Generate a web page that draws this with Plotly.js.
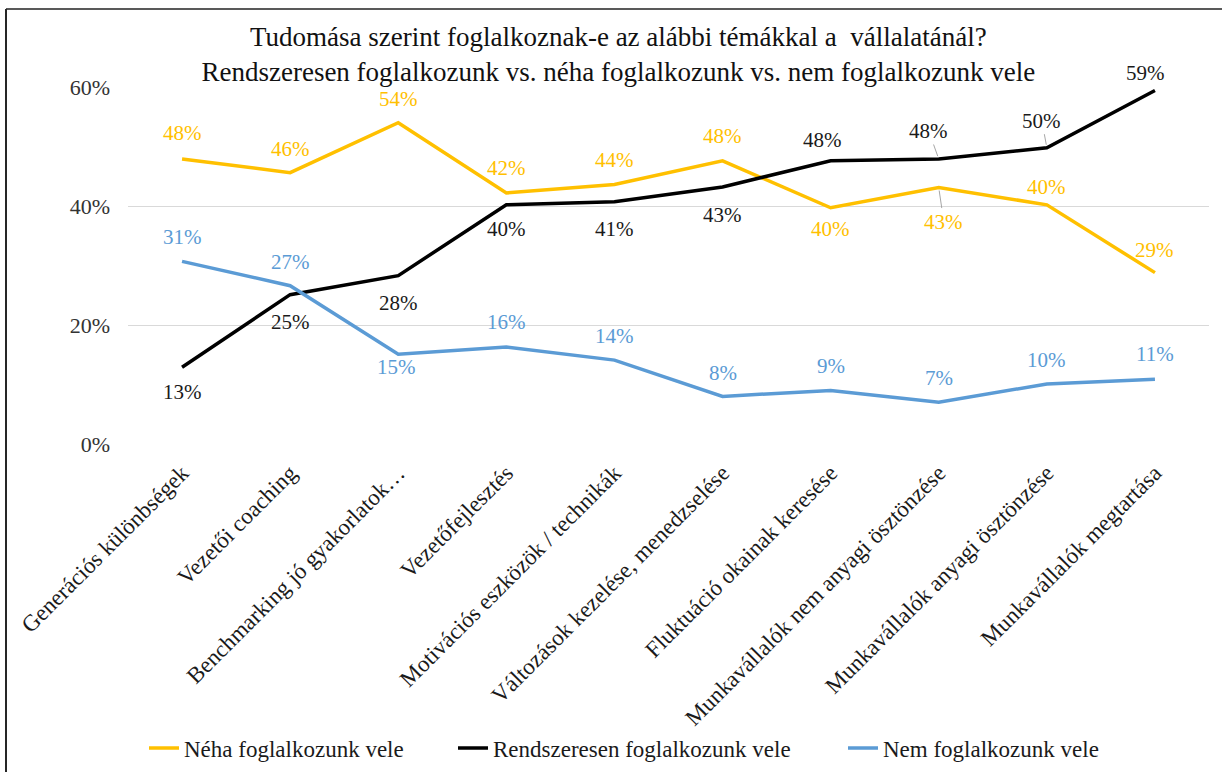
<!DOCTYPE html>
<html>
<head>
<meta charset="utf-8">
<script src="https://cdn.plot.ly/plotly-3.0.1.min.js"></script>
<style>html,body{margin:0;padding:0;background:#fff;}#chart{width:1222px;height:772px;}</style>
</head>
<body>
<div id="chart"></div>
<script>
const categories = [
  "Generációs különbségek",
  "Vezetői coaching",
  "Benchmarking jó gyakorlatok…",
  "Vezetőfejlesztés",
  "Motivációs eszközök / technikák",
  "Változások kezelése, menedzselése",
  "Fluktuáció okainak keresése",
  "Munkavállalók nem anyagi ösztönzése",
  "Munkavállalók anyagi ösztönzése",
  "Munkavállalók megtartása"
];
const nehaValues = [47.9, 45.6, 54.0, 42.2, 43.6, 47.6, 39.7, 43.1, 40.2, 28.8];
const rendszeresenValues = [12.9, 25.1, 28.3, 40.2, 40.7, 43.2, 47.6, 47.9, 49.8, 59.4];
const nemValues = [30.7, 26.6, 15.1, 16.3, 14.1, 8.0, 9.0, 7.0, 10.1, 10.9];
const seriesNames = ["Néha foglalkozunk vele", "Rendszeresen foglalkozunk vele", "Nem foglalkozunk vele"];
const yTickValues = [0, 20, 40, 60];
const yTickLabels = ["0%", "20%", "40%", "60%"];

// label placement (style): pixel offsets of data labels relative to their points
const nehaLabelDy = [-26, -24, -24, -25, -25, -25, 21, 34, -18, -23];
const nehaLabelDx = [0, 0, 0, 0, 0, 0, 0, 5, 0, 0];
const nehaLeader = [0, 0, 0, 0, 0, 0, 0, 1, 0, 0];
const rendLabelDy = [25, 27, 27, 24, 27, 28, -21, -28, -27, -18];
const rendLabelDx = [0, 0, 0, 0, 0, 0, -8, -10, -5, -9];
const rendLeader = [0, 0, 0, 0, 0, 0, 0, 1, 1, 0];
const nemLabelDy = [-24, -24, 13, -25, -24, -23, -24, -24, -24, -25];
const nemLabelDx = [0, 0, -2, 0, 0, 0, 0, 0, 0, 0];
const nemLeader = [0, 0, 0, 0, 0, 0, 0, 0, 0, 0];

const colors = ["#FFC000", "#000000", "#5B9BD5"];
const labelColors = ["#FFC000", "#1a1a1a", "#5B9BD5"];
const FONT = "Liberation Serif, Times New Roman, serif";

const seriesValues = [nehaValues, rendszeresenValues, nemValues];
const dys = [nehaLabelDy, rendLabelDy, nemLabelDy];
const dxs = [nehaLabelDx, rendLabelDx, nemLabelDx];
const leaders = [nehaLeader, rendLeader, nemLeader];
const legendIds = ["legend", "legend2", "legend3"];

const traces = seriesValues.map((vals, i) => ({
  type: "scatter",
  mode: "lines",
  x: categories,
  y: vals,
  name: seriesNames[i],
  legend: legendIds[i],
  line: { color: colors[i], width: 3.5 },
  cliponaxis: false,
  hoverinfo: "skip"
}));

const annotations = [];
seriesValues.forEach((vals, i) => {
  vals.forEach((v, j) => {
    annotations.push({
      x: categories[j],
      y: v,
      xref: "x",
      yref: "y",
      text: Math.round(v) + "%",
      showarrow: true,
      arrowhead: 0,
      arrowwidth: 1,
      arrowcolor: leaders[i][j] ? "#A6A6A6" : "rgba(0,0,0,0)",
      standoff: 3,
      ax: dxs[i][j],
      ay: dys[i][j],
      font: { family: FONT, size: 21, color: labelColors[i] }
    });
  });
});

const L = 128, T = 87, W = 1081, H = 357;
const px = p => (p - L) / W;
const py = p => (T + H - p) / H;
const shapes = [
  { type: "line", xref: "paper", yref: "paper", x0: px(6), x1: px(1230), y0: py(9), y1: py(9), line: { color: "#595959", width: 2 } },
  { type: "line", xref: "paper", yref: "paper", x0: px(6), x1: px(6), y0: py(9), y1: py(780), line: { color: "#262626", width: 2 } }
];

const legendBase = {
  orientation: "h",
  xref: "container",
  yref: "container",
  xanchor: "left",
  yanchor: "middle",
  y: (772 - 748) / 772,
  font: { family: FONT, size: 23, color: "#1a1a1a" },
  itemwidth: 30,
  bgcolor: "rgba(0,0,0,0)",
  borderwidth: 0
};

const layout = {
  width: 1222,
  height: 772,
  margin: { l: L, r: 1222 - L - W, t: T, b: 772 - T - H },
  paper_bgcolor: "#ffffff",
  plot_bgcolor: "#ffffff",
  font: { family: FONT, size: 22, color: "#262626" },
  title: {
    text: "Tudomása szerint foglalkoznak-e az alábbi témákkal a \u00a0vállalatánál?<br>Rendszeresen foglalkozunk vs. néha foglalkozunk vs. nem foglalkozunk vele",
    font: { family: FONT, size: 27, color: "#111111" },
    x: 0.506,
    xanchor: "center",
    xref: "container",
    yref: "container",
    y: 1 - 46 / 772,
    yanchor: "middle"
  },
  xaxis: {
    type: "category",
    range: [-0.5, 9.5],
    tickangle: -45,
    showgrid: false,
    showline: false,
    zeroline: false,
    ticks: "",
    ticklabelstandoff: 10,
    automargin: false,
    tickfont: { family: FONT, size: 23, color: "#1a1a1a" }
  },
  yaxis: {
    range: [0, 60],
    tickvals: yTickValues,
    ticktext: yTickLabels,
    showgrid: true,
    gridcolor: "#D9D9D9",
    gridwidth: 1,
    zeroline: false,
    showline: false,
    ticks: "",
    ticklabelstandoff: 17,
    automargin: false,
    tickfont: { family: FONT, size: 22, color: "#333333" }
  },
  showlegend: true,
  legend: Object.assign({}, legendBase, { x: 144 / 1222 }),
  legend2: Object.assign({}, legendBase, { x: 453 / 1222 }),
  legend3: Object.assign({}, legendBase, { x: 843 / 1222 }),
  annotations: annotations,
  shapes: shapes
};

Plotly.newPlot("chart", traces, layout, { displayModeBar: false, staticPlot: true });
</script>
</body>
</html>
